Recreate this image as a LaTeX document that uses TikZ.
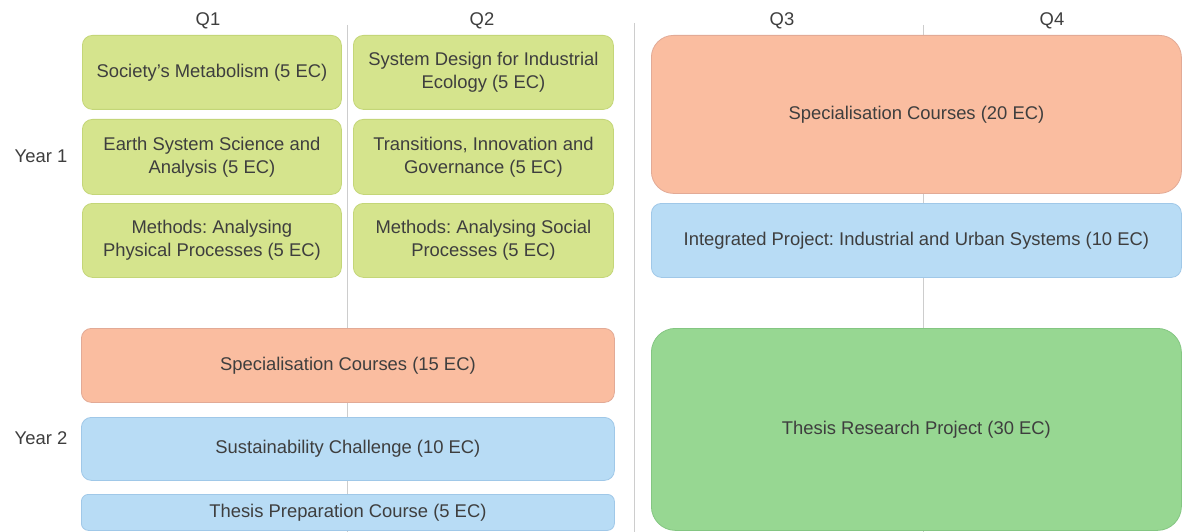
\documentclass[tikz,border=0pt]{standalone}
\usepackage{fontspec}
\setmainfont{Liberation Sans}
\frenchspacing
\definecolor{coregreen}{RGB}{213,228,141}
\definecolor{coregreenline}{RGB}{196,214,120}
\definecolor{specorange}{RGB}{250,189,160}
\definecolor{specorangeline}{RGB}{226,170,150}
\definecolor{projblue}{RGB}{184,220,245}
\definecolor{projblueline}{RGB}{160,200,232}
\definecolor{thesisgreen}{RGB}{151,215,146}
\definecolor{thesisgreenline}{RGB}{132,198,130}
\definecolor{labeltext}{RGB}{62,62,62}
\definecolor{gridgray}{RGB}{205,205,205}
\begin{document}
\begin{tikzpicture}[x=1pt,y=-1pt,
  every node/.style={font=\fontsize{18.4}{23}\selectfont, text=labeltext},
  course/.style={anchor=north west, align=center, inner sep=0pt, rounded corners=10pt, line width=0.8pt},
  core/.style={course, fill=coregreen, draw=coregreenline},
  spec/.style={course, fill=specorange, draw=specorangeline},
  proj/.style={course, fill=projblue, draw=projblueline},
  thesis/.style={course, fill=thesisgreen, draw=thesisgreenline, rounded corners=24pt},
  gridline/.style={draw=gridgray, line width=1pt},
  heading/.style={anchor=center}]
\useasboundingbox (0,0) rectangle (1183,532);
\fill[white] (0,0) rectangle (1183,532);

% quarter dividers
\coordinate (q12top) at (347,25);
\coordinate (q12bot) at (347,532);
\coordinate (semtop) at (634,23);
\coordinate (sembot) at (634,532);
\coordinate (q34top) at (923,25);
\coordinate (q34bot) at (923,532);
\draw[gridline] (q12top) -- (q12bot);
\draw[gridline] (semtop) -- (sembot);
\draw[gridline] (q34top) -- (q34bot);

% column and row headings
\node[heading] (hq1) at (208,21) {Q1};
\node[heading] (hq2) at (482,21) {Q2};
\node[heading] (hq3) at (782,21) {Q3};
\node[heading] (hq4) at (1052,21) {Q4};
\node[heading] (year1) at (41,156) {Year 1};
\node[heading] (year2) at (41,438) {Year 2};

% year 1, semester 1
\node[core, minimum width=259pt, minimum height=74pt] (metab) at (82,35) {Society's Metabolism (5 EC)};
\node[core, minimum width=259pt, minimum height=75pt] (earth) at (82,119) {Earth System Science and\\Analysis (5 EC)};
\node[core, minimum width=259pt, minimum height=74pt] (physproc) at (82,203) {Methods: Analysing\\Physical Processes (5 EC)};
\node[core, minimum width=260pt, minimum height=74pt] (sysdesign) at (353,35) {System Design for Industrial\\Ecology (5 EC)};
\node[core, minimum width=260pt, minimum height=75pt] (transitions) at (353,119) {Transitions, Innovation and\\Governance (5 EC)};
\node[core, minimum width=260pt, minimum height=74pt] (socproc) at (353,203) {Methods: Analysing Social\\Processes (5 EC)};

% year 1, semester 2
\node[spec, rounded corners=22pt, minimum width=530pt, minimum height=158pt] (spec20) at (651,35) {Specialisation Courses (20 EC)};
\node[proj, minimum width=530pt, minimum height=74pt] (integrated) at (651,203) {Integrated Project: Industrial and Urban Systems (10 EC)};

% year 2
\node[spec, minimum width=533pt, minimum height=74pt] (spec15) at (81,328) {Specialisation Courses (15 EC)};
\node[proj, minimum width=533pt, minimum height=63pt] (challenge) at (81,417) {Sustainability Challenge (10 EC)};
\node[proj, rounded corners=7pt, minimum width=533pt, minimum height=36pt] (thesisprep) at (81,494) {Thesis Preparation Course (5 EC)};
\node[thesis, minimum width=530pt, minimum height=202pt] (thesisproj) at (651,328) {Thesis Research Project (30 EC)};
\end{tikzpicture}
\end{document}
